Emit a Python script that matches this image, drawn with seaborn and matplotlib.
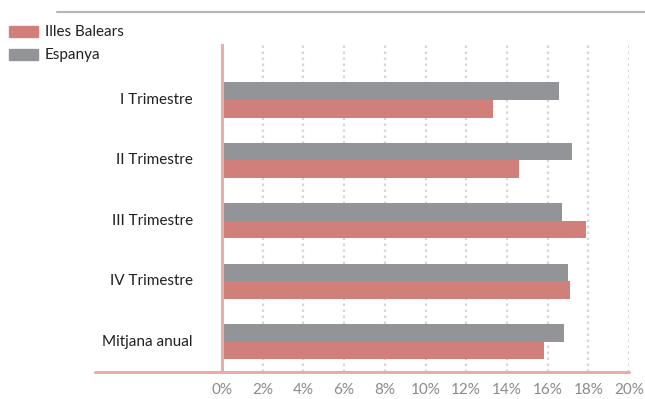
import matplotlib
matplotlib.use("Agg")
import matplotlib.pyplot as plt
from matplotlib.patches import Rectangle
from matplotlib.lines import Line2D
import seaborn as sns
import pandas as pd

categories = ["I Trimestre", "II Trimestre", "III Trimestre", "IV Trimestre", "Mitjana anual"]
illes_balears = [13.3, 14.6, 17.9, 17.1, 15.8]
espanya = [16.55, 17.2, 16.7, 17.0, 16.8]
series = ["Illes Balears", "Espanya"]
xticks = [0, 2, 4, 6, 8, 10, 12, 14, 16, 18, 20]
xtick_labels = ["0%", "2%", "4%", "6%", "8%", "10%", "12%", "14%", "16%", "18%", "20%"]

PINK = "#d17f7a"
GREY = "#939498"
AXPINK = "#e5aeaa"

df = pd.DataFrame({
    "cat": categories * 2,
    "val": espanya + illes_balears,
    "serie": ["Espanya"] * len(categories) + ["Illes Balears"] * len(categories),
})

sns.set_style("white")
plt.rcParams["font.family"] = ["Lato", "DejaVu Sans"]

W, H = 645, 399
fig = plt.figure(figsize=(W / 100, H / 100), dpi=100)
ax = fig.add_axes([222 / W, 1 - 372 / H, (629 - 222) / W, (372 - 45) / H])

sns.barplot(data=df, x="val", y="cat", hue="serie", order=categories,
            hue_order=["Espanya", "Illes Balears"],
            palette={"Espanya": GREY, "Illes Balears": PINK},
            orient="h", width=0.58, saturation=1, ax=ax, legend=False,
            errorbar=None, zorder=3)
for p in ax.patches:
    p.set_edgecolor("none")

ax.set_xlim(0, 20)
ax.set_ylim(4.5, -0.91)
ax.set_xticks(xticks)
ax.set_xticklabels(xtick_labels)
ax.set_xlabel("")
ax.set_ylabel("")

for x in xticks[1:]:
    ax.axvline(x, color="#d6d6d6", lw=1.6, linestyle=(0, (1.1, 1.6)), zorder=1)

for s in ["top", "right", "bottom"]:
    ax.spines[s].set_visible(False)
ax.spines["left"].set_color(AXPINK)
ax.spines["left"].set_linewidth(2.2)
ax.spines["left"].set_zorder(4)

ax.tick_params(axis="x", length=0, pad=8, labelsize=11, labelcolor="#8a8a8e")
ax.tick_params(axis="y", length=0, pad=21, labelsize=11, labelcolor="#231f20")
for lbl in ax.get_yticklabels():
    lbl.set_verticalalignment("center")

# bottom line extending left
fig.add_artist(Line2D([95 / W, 629 / W], [1 - 372 / H, 1 - 372 / H],
                      color=AXPINK, lw=2.2, transform=fig.transFigure))
# top grey line
fig.add_artist(Line2D([57 / W, 645 / W], [1 - 12 / H, 1 - 12 / H],
                      color="#b7b7bb", lw=1.6, transform=fig.transFigure))

# legend
for i, (name, col) in enumerate([("Illes Balears", PINK), ("Espanya", GREY)]):
    y0 = 26 + i * 23
    fig.add_artist(Rectangle((9 / W, 1 - (y0 + 11) / H), 29 / W, 11 / H,
                             color=col, transform=fig.transFigure))
    fig.text(45 / W, 1 - (y0 + 5.5) / H, name, fontsize=11, color="#231f20",
             va="center", ha="left")

fig.savefig("out.png", dpi=100)
